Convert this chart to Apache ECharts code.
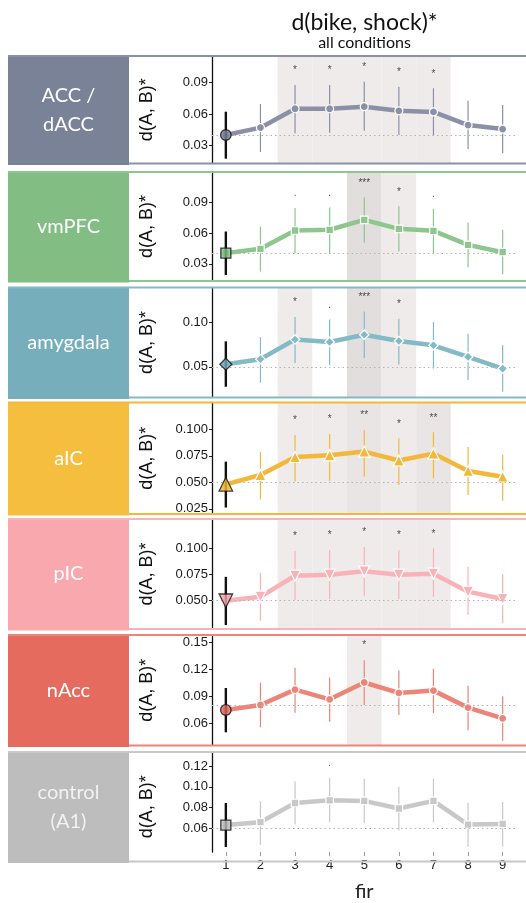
<!DOCTYPE html>
<html>
<head>
<meta charset="utf-8">
<script src="https://cdn.jsdelivr.net/npm/echarts@6/dist/echarts.min.js"></script>
<style>
  html, body { margin: 0; padding: 0; background: #fff; }
  #chart { width: 526px; height: 903px; }
</style>
</head>
<body>
<div id="chart"></div>
<script>
// FIR time bins on the shared x axis
const firBins = [1, 2, 3, 4, 5, 6, 7, 8, 9];

// ACC / dACC
const accMean = [0.040, 0.047, 0.065, 0.065, 0.067, 0.063, 0.062, 0.0495, 0.0457];
const accLow  = [0.0175, 0.0238, 0.0416, 0.0422, 0.044, 0.040, 0.039, 0.0267, 0.0226];
const accHigh = [0.0622, 0.0695, 0.0876, 0.0876, 0.0906, 0.086, 0.0845, 0.0727, 0.0686];
const accSig  = ['', '', '*', '*', '*', '*', '*', '', ''];
const accTicks = [0.03, 0.06, 0.09];

// vmPFC
const vmpfcMean = [0.0405, 0.0447, 0.0626, 0.0633, 0.073, 0.0642, 0.0623, 0.0486, 0.0414];
const vmpfcLow  = [0.0192, 0.0225, 0.0405, 0.0405, 0.0508, 0.042, 0.0395, 0.0268, 0.0199];
const vmpfcHigh = [0.0616, 0.0665, 0.0845, 0.0851, 0.0949, 0.0862, 0.0838, 0.0704, 0.0633];
const vmpfcSig  = ['', '', '.', '.', '***', '*', '.', '', ''];
const vmpfcTicks = [0.03, 0.06, 0.09];

// amygdala
const amyMean = [0.053, 0.0586, 0.0806, 0.0778, 0.0859, 0.0789, 0.0741, 0.0611, 0.0481];
const amyLow  = [0.0278, 0.0322, 0.0544, 0.0519, 0.060, 0.0526, 0.0481, 0.0352, 0.0222];
const amyHigh = [0.0785, 0.0833, 0.1056, 0.103, 0.1119, 0.1037, 0.100, 0.087, 0.0741];
const amySig  = ['', '', '*', '.', '***', '*', '', '', ''];
const amyTicks = [0.05, 0.10];

// anterior insula
const aicMean = [0.0481, 0.0569, 0.0739, 0.0755, 0.079, 0.0706, 0.0771, 0.0607, 0.0553];
const aicLow  = [0.0262, 0.034, 0.0506, 0.0515, 0.0553, 0.0475, 0.0538, 0.038, 0.0325];
const aicHigh = [0.0695, 0.0785, 0.0946, 0.0956, 0.0994, 0.0915, 0.0972, 0.0832, 0.0762];
const aicSig  = ['', '', '*', '*', '**', '*', '**', '', ''];
const aicTicks = [0.025, 0.050, 0.075, 0.100];

// posterior insula
const picMean = [0.0493, 0.0532, 0.0735, 0.0745, 0.0777, 0.0745, 0.0755, 0.0581, 0.051];
const picLow  = [0.0258, 0.030, 0.050, 0.051, 0.0541, 0.051, 0.0532, 0.0355, 0.0277];
const picHigh = [0.0724, 0.0763, 0.0974, 0.0984, 0.1013, 0.0984, 0.100, 0.0822, 0.0752];
const picSig  = ['', '', '*', '*', '*', '*', '*', '', ''];
const picTicks = [0.050, 0.075, 0.100];

// nucleus accumbens
const naccMean = [0.0752, 0.0807, 0.0977, 0.087, 0.1056, 0.094, 0.0966, 0.0778, 0.066];
const naccLow  = [0.0505, 0.056, 0.0722, 0.0622, 0.0807, 0.0696, 0.0718, 0.0528, 0.0412];
const naccHigh = [0.0995, 0.1056, 0.1218, 0.111, 0.1302, 0.1189, 0.1207, 0.1021, 0.0903];
const naccSig  = ['', '', '', '', '*', '', '', '', ''];
const naccTicks = [0.06, 0.09, 0.12, 0.15];

// control region (A1)
const ctrlMean = [0.0632, 0.066, 0.0844, 0.087, 0.0864, 0.0791, 0.0864, 0.0637, 0.0643];
const ctrlLow  = [0.0421, 0.0442, 0.0637, 0.066, 0.0652, 0.058, 0.066, 0.0424, 0.0424];
const ctrlHigh = [0.0844, 0.086, 0.105, 0.1087, 0.1078, 0.100, 0.1078, 0.0847, 0.0853];
const ctrlSig  = ['', '', '', '.', '', '', '', '', ''];
const ctrlTicks = [0.06, 0.08, 0.10, 0.12];

// one row per region: data arrays plus the row's look
const rows = [
  { label: 'ACC /\ndACC', mean: accMean, lo: accLow, hi: accHigh, sig: accSig, ticks: accTicks, dec: 2,
    top: 56, bottom: 163.5, ymin: 0.0129, ymax: 0.1152,
    box: '#7a8297', line: '#8a91a6', text: '#ffffff', symbol: 'circle', size: 8, rot: 0 },
  { label: 'vmPFC', mean: vmpfcMean, lo: vmpfcLow, hi: vmpfcHigh, sig: vmpfcSig, ticks: vmpfcTicks, dec: 2,
    top: 172, bottom: 281, ymin: 0.0133, ymax: 0.1197,
    box: '#82bd84', line: '#8dc68e', text: '#ffffff', symbol: 'rect', size: 7.5, rot: 0 },
  { label: 'amygdala', mean: amyMean, lo: amyLow, hi: amyHigh, sig: amySig, ticks: amyTicks, dec: 2,
    top: 287.5, bottom: 397.5, ymin: 0.0158, ymax: 0.1386,
    box: '#76aebb', line: '#84bac6', text: '#ffffff', symbol: 'diamond', size: 9.5, rot: 0 },
  { label: 'aIC', mean: aicMean, lo: aicLow, hi: aicHigh, sig: aicSig, ticks: aicTicks, dec: 3,
    top: 402.5, bottom: 514, ymin: 0.0201, ymax: 0.1253,
    box: '#f6be3f', line: '#f3b83a', text: '#ffffff', symbol: 'triangle', size: 11, rot: 0 },
  { label: 'pIC', mean: picMean, lo: picLow, hi: picHigh, sig: picSig, ticks: picTicks, dec: 3,
    top: 519, bottom: 629, ymin: 0.022, ymax: 0.1283,
    box: '#f9a8ae', line: '#f9b3b8', text: '#ffffff', symbol: 'triangle', size: 11, rot: 180 },
  { label: 'nAcc', mean: naccMean, lo: naccLow, hi: naccHigh, sig: naccSig, ticks: naccTicks, dec: 2,
    top: 635, bottom: 745.5, ymin: 0.0359, ymax: 0.1581,
    box: '#e46b5e', line: '#ec8477', text: '#ffffff', symbol: 'circle', size: 8, rot: 0 },
  { label: 'control\n(A1)', mean: ctrlMean, lo: ctrlLow, hi: ctrlHigh, sig: ctrlSig, ticks: ctrlTicks, dec: 2,
    top: 752, bottom: 861.5, ymin: 0.0373, ymax: 0.1334,
    box: '#bdbdbd', line: '#c8c8c8', text: '#f2f2f2', symbol: 'rect', size: 7.5, rot: 0 }
];

const PLOT_LEFT = 212;
const PLOT_WIDTH = 304.5;
const shade = { '*': '#efebea', '**': '#e9e5e4', '***': '#e2dedd' };
const tickFont = 'Liberation Sans, Arial, sans-serif';
const stripFont = 'Lato, Noto Sans, sans-serif';

function errorBarItem(color, width) {
  return function (params, api) {
    const top = api.coord([api.value(0), api.value(2)]);
    const bot = api.coord([api.value(0), api.value(1)]);
    return {
      type: 'line',
      shape: { x1: top[0], y1: top[1], x2: bot[0], y2: bot[1] },
      style: { stroke: color, lineWidth: width }
    };
  };
}

const grid = [], xAxis = [], yAxis = [], series = [], graphic = [];
const last = rows.length - 1;

rows.forEach((r, i) => {
  grid.push({ left: PLOT_LEFT, width: PLOT_WIDTH, top: r.top, height: r.bottom - r.top });

  const isLast = i === last;
  xAxis.push({
    gridIndex: i, type: 'value', min: 0.6, max: 9.4, show: true,
    axisLine: { show: false },
    axisTick: { show: isLast, length: 4, customValues: firBins, lineStyle: { color: '#9a9a9a', width: 1 } },
    axisLabel: { show: isLast, customValues: firBins, fontFamily: tickFont, fontSize: 13, color: '#222', margin: 7 },
    splitLine: { show: false },
    name: isLast ? 'fir' : '', nameLocation: 'middle', nameGap: 30,
    nameTextStyle: { fontFamily: stripFont, fontSize: 20, color: '#222' }
  });

  yAxis.push({
    gridIndex: i, type: 'value', min: r.ymin, max: r.ymax,
    axisLine: { show: true, lineStyle: { color: '#111', width: 1.3 } },
    axisTick: { show: true, length: 3, customValues: r.ticks, lineStyle: { color: '#222', width: 1 } },
    axisLabel: { customValues: r.ticks, formatter: v => v.toFixed(r.dec),
                 fontFamily: tickFont, fontSize: 13, color: '#1a1a1a', margin: 4 },
    splitLine: { show: false }
  });

  // shaded bins for significant time points and the baseline reference line
  const areas = [];
  r.sig.forEach((s, k) => {
    if (shade[s]) {
      areas.push([{ xAxis: firBins[k] - 0.5, itemStyle: { color: shade[s] } }, { xAxis: firBins[k] + 0.5 }]);
    }
  });
  series.push({
    type: 'line', xAxisIndex: i, yAxisIndex: i, z: 1, silent: true,
    data: [[firBins[0], r.mean[0]]], showSymbol: false, lineStyle: { opacity: 0 },
    markArea: { silent: true, data: areas, itemStyle: { opacity: 1 } },
    markLine: {
      silent: true, symbol: 'none', label: { show: false },
      lineStyle: { type: [1.5, 3], color: '#b4b4b4', width: 1 },
      data: [{ yAxis: r.mean[0] }]
    }
  });

  // error bars for bins 2..9
  series.push({
    type: 'custom', xAxisIndex: i, yAxisIndex: i, z: 3, silent: true,
    renderItem: errorBarItem(r.line, 1.2),
    data: firBins.slice(1).map((x, k) => [x, r.lo[k + 1], r.hi[k + 1]])
  });

  // mean trajectory
  series.push({
    type: 'line', xAxisIndex: i, yAxisIndex: i, z: 4, silent: true,
    data: firBins.map((x, k) => [x, r.mean[k]]),
    symbol: r.symbol, symbolSize: r.size, symbolRotate: r.rot, showSymbol: true,
    lineStyle: { color: r.line, width: 4.5 },
    itemStyle: { color: r.line, borderColor: '#ffffff', borderWidth: 1.2 }
  });

  // significance markers above the error bars
  series.push({
    type: 'scatter', xAxisIndex: i, yAxisIndex: i, z: 5, silent: true,
    symbolSize: 1, itemStyle: { color: 'rgba(0,0,0,0)' },
    data: firBins.map((x, k) => [x, r.hi[k], r.sig[k]]).filter(d => d[2] !== ''),
    label: { show: true, position: 'top', distance: 9, formatter: p => p.data[2],
             fontFamily: tickFont, fontSize: 10, color: '#222' }
  });

  // baseline bin drawn in black
  series.push({
    type: 'custom', xAxisIndex: i, yAxisIndex: i, z: 6, silent: true,
    renderItem: errorBarItem('#111', 2.4),
    data: [[firBins[0], r.lo[0], r.hi[0]]]
  });
  series.push({
    type: 'scatter', xAxisIndex: i, yAxisIndex: i, z: 7, silent: true,
    data: [[firBins[0], r.mean[0]]],
    symbol: r.symbol, symbolSize: r.size + 2.5, symbolRotate: r.rot,
    itemStyle: { color: r.box, borderColor: '#111', borderWidth: 1.3 }
  });

  // row frame: strip box, top and bottom rules, strip label, y title
  graphic.push({
    type: 'rect', silent: true, z: 0,
    shape: { x: 8, y: r.top, width: 121, height: r.bottom - r.top + 1.5 },
    style: { fill: r.box }
  });
  graphic.push({
    type: 'rect', silent: true, z: 10,
    shape: { x: 8, y: r.top - 1, width: 518, height: 2 },
    style: { fill: r.line }
  });
  graphic.push({
    type: 'rect', silent: true, z: 10,
    shape: { x: 129, y: r.bottom - 1, width: 397, height: 2 },
    style: { fill: r.line }
  });
  graphic.push({
    type: 'text', silent: true, z: 11,
    x: 68.5, y: (r.top + r.bottom) / 2,
    style: { text: r.label, fill: r.text, font: '20px ' + stripFont,
             align: 'center', verticalAlign: 'middle', lineHeight: 29 }
  });
  graphic.push({
    type: 'text', silent: true, z: 11,
    x: 147, y: (r.top + r.bottom) / 2, rotation: Math.PI / 2,
    style: { text: 'd(A, B)*', fill: '#111', font: '18px ' + tickFont,
             align: 'center', verticalAlign: 'middle' }
  });
});

graphic.push({
  type: 'text', silent: true, x: 364.5, y: 23,
  style: { text: 'd(bike, shock)*', fill: '#111', font: '23px ' + stripFont, align: 'center', verticalAlign: 'middle' }
});
graphic.push({
  type: 'text', silent: true, x: 364.5, y: 43,
  style: { text: 'all conditions', fill: '#111', font: '16px ' + stripFont, align: 'center', verticalAlign: 'middle' }
});

const chart = echarts.init(document.getElementById('chart'), null, { renderer: 'canvas' });
chart.setOption({
  animation: false,
  backgroundColor: '#ffffff',
  grid, xAxis, yAxis, series, graphic
});
</script>
</body>
</html>
